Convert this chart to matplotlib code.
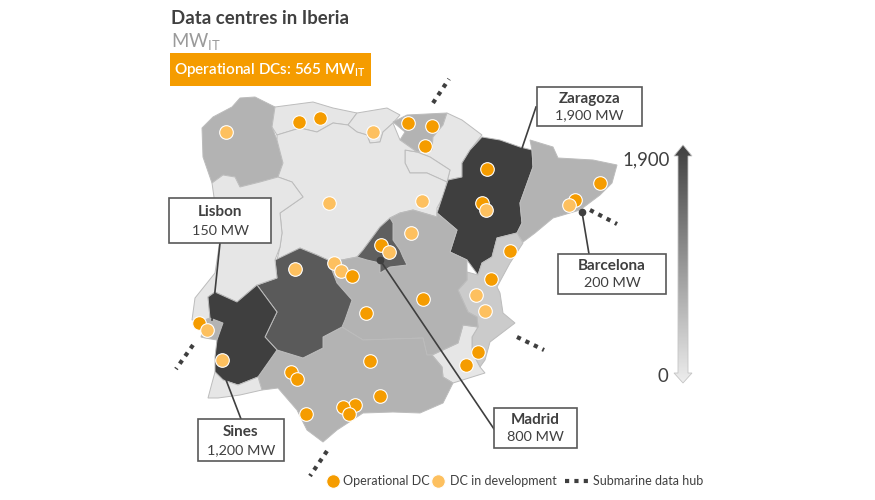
#!/usr/bin/env python3
"""
Data centres in Iberia - region map redrawn in picture coordinates
"""

import numpy as np
import matplotlib
matplotlib.use('Agg')
import matplotlib.pyplot as plt
from matplotlib.patches import Polygon, Rectangle
from matplotlib.colors import LinearSegmentedColormap

plt.rcParams['font.family'] = ['Lato', 'Open Sans', 'DejaVu Sans']
plt.rcParams['mathtext.default'] = 'regular'

DARK = '#3f3f3f'
TEXT = '#404040'
ORANGE = '#f59c00'
LIGHT_ORANGE = '#fdc05f'

# Region outlines, (x, y)
galicia = [(232,107),(240,98),(255,97),(275,107),(272,127),(277,140),(283,163),(278,177),(260,182),(240,187),(235,177),(223,175),(212,183),(203,157),(202,128),(213,117)]
asturias = [(275,107),(313,102),(333,108),(357,113),(348,125),(333,123),(317,132),(300,128),(277,135),(272,127)]
cantabria = [(357,113),(387,108),(400,115),(393,123),(383,132),(380,142),(370,143),(367,135),(357,132),(348,125)]
basque = [(393,122),(407,115),(447,113),(443,125),(433,137),(432,150),(417,152),(400,140),(405,132)]
navarre = [(447,113),(462,120),(482,135),(470,150),(462,163),(462,177),(448,180),(447,182),(450,170),(430,157),(417,152),(432,150),(433,137),(443,125)]
rioja = [(405,150),(417,152),(430,157),(450,170),(447,182),(427,173),(410,173),(405,163)]
castile_leon = [(277,135),(300,128),(317,132),(333,123),(348,125),(357,132),(367,135),(370,143),(380,142),(383,132),(393,123),(400,140),(417,152),(405,150),(405,163),(410,173),(427,173),(447,182),(443,197),(437,208),(437,217),(413,210),(400,213),(390,218),(380,227),(363,250),(357,257),(342,260),(328,260),(317,255),(300,248),(277,260),(280,247),(282,233),(280,213),(303,197),(292,182),(278,177),(283,163),(277,140)]
aragon = [(482,137),(500,140),(520,147),(532,150),(533,167),(520,203),(522,223),(517,233),(497,238),(492,257),(482,263),(478,275),(467,260),(450,252),(457,230),(437,213),(448,180),(462,177),(462,163),(470,150)]
catalonia = [(530,140),(553,147),(558,158),(593,160),(617,165),(612,183),(600,195),(580,210),(553,218),(535,233),(523,242),(517,233),(522,223),(520,203),(533,167),(532,150)]
valencia = [(497,238),(517,233),(523,243),(510,263),(497,287),(500,293),(503,313),(515,323),(490,342),(485,360),(480,367),(472,352),(472,337),(478,327),(477,317),(468,312),(458,290),(467,280),(467,272),(478,275),(482,263),(492,257)]
murcia = [(432,355),(458,343),(463,325),(478,327),(472,337),(472,352),(480,367),(485,373),(453,383),(443,377),(442,367)]
castile_mancha = [(390,218),(400,213),(413,210),(437,217),(437,213),(457,230),(450,252),(467,260),(467,280),(458,290),(468,312),(477,317),(478,327),(463,325),(458,343),(432,355),(427,355),(423,338),(363,340),(342,327),(352,300),(337,283),(328,260),(342,260),(357,257),(380,263),(380,273),(390,267),(407,265),(403,257),(400,250),(393,240),(393,223)]
madrid = [(363,250),(380,227),(390,218),(393,223),(393,240),(400,250),(403,257),(407,265),(390,267),(380,273),(380,263),(367,260),(357,257)]
andalusia = [(258,377),(277,350),(303,358),(323,348),(323,337),(342,327),(363,340),(423,338),(427,355),(432,355),(442,367),(443,377),(453,383),(443,403),(420,413),(393,412),(363,413),(337,430),(323,442),(307,430),(297,410),(278,388),(262,390)]
extremadura = [(257,285),(277,278),(275,260),(300,248),(317,255),(328,260),(337,283),(352,300),(345,320),(342,327),(323,337),(323,348),(303,358),(277,350),(265,337),(277,312)]
portugal_north = [(212,183),(223,175),(235,177),(240,187),(260,182),(278,177),(292,182),(303,197),(280,213),(282,233),(280,247),(275,260),(277,278),(257,285),(237,302),(215,292),(208,297),(210,318),(205,320),(192,320),(195,298),(215,273),(220,240)]
lisbon_area = [(205,320),(210,318),(223,323),(217,340),(205,338),(201,337)]
alentejo = [(208,297),(215,292),(237,302),(257,285),(277,312),(265,337),(277,350),(258,377),(238,385),(223,380),(215,372),(215,357),(217,340),(223,323),(210,318)]
algarve = [(215,372),(223,380),(238,385),(258,377),(262,390),(240,395),(218,398),(208,398),(212,383)]

regions = [galicia, asturias, cantabria, basque, navarre, rioja, castile_leon, aragon, catalonia,
           valencia, murcia, castile_mancha, madrid, andalusia, extremadura, portugal_north,
           lisbon_area, alentejo, algarve]
region_fills = ['#b3b3b3', '#e6e6e6', '#e6e6e6', '#b3b3b3', '#e6e6e6', '#e6e6e6', '#e6e6e6', DARK, '#b3b3b3',
                '#cbcbcb', '#e6e6e6', '#b3b3b3', '#5f5f5f', '#b3b3b3', '#5a5a5a', '#e6e6e6',
                '#b3b3b3', DARK, '#e6e6e6']

# Data centres
operational_x = [299,320,408,432,425,487,482,600,575,510,491,423,366,381,199,370,291,297,380,355,343,349,306,478,466]
operational_y = [122,118,123,126,146,169,203,183,200,251,279,299,313,245,323,361,372,379,396,405,407,414,414,352,365]
development_x = [226,373,422,329,411,486,569,389,295,334,341,476,485,207,222]
development_y = [132,132,201,203,233,210,205,252,269,263,271,295,311,330,360]
operational_top_x = [352]
operational_top_y = [276]

# Submarine hubs as (start, end)
hubs = [((433,103),(449,79)), ((590,210),(617,224)), ((193,345),(176,369)),
        ((327,451),(310,476)), ((517,337),(544,350))]

# Callouts
callout_names = ['Zaragoza', 'Barcelona', 'Lisbon', 'Sines', 'Madrid']
callout_values = ['1,900 MW', '200 MW', '150 MW', '1,200 MW', '800 MW']
callout_boxes = [(537,87,642,126), (558,254,666,294), (169,198,271,243), (198,419,284,461), (494,408,577,448)]
callout_from = [(536,107), (589,254), (220,243), (241,419), (494,429)]
callout_to = [(498,219), (582,212), (212,320), (223,372), (380,260)]
callout_dot = [True, True, False, False, True]

fig = plt.figure(figsize=(8.75, 5), dpi=100)
ax = fig.add_axes([0, 0, 1, 1])
ax.set_xlim(0, 875)
ax.set_ylim(500, 0)
ax.axis('off')

# Map
for outline, fill in zip(regions, region_fills):
    ax.add_patch(Polygon(outline, closed=True, facecolor=fill, edgecolor='#bcbcbc', linewidth=0.7, zorder=1))

# Hubs
hub_dash = (0, (1, 1.25))
for start, end in hubs:
    ax.plot([start[0], end[0]], [start[1], end[1]], color=DARK, lw=3, ls=hub_dash, zorder=2)

# Leader lines, under the dots
for p0, p1, has_dot in zip(callout_from, callout_to, callout_dot):
    ax.plot([p0[0], p1[0]], [p0[1], p1[1]], color=DARK, lw=1.2, zorder=2)
    if has_dot:
        ax.plot(p1[0], p1[1], 'o', color=DARK, ms=4.5, zorder=2)

# Data centres
dot = dict(s=96, edgecolors='#ffffff', linewidths=0.8, zorder=3)
ax.scatter(operational_x, operational_y, color=ORANGE, **dot)
ax.scatter(development_x, development_y, color=LIGHT_ORANGE, **dot)
ax.scatter(operational_top_x, operational_top_y, color=ORANGE, **dot)

# Callout boxes
for name, value, box in zip(callout_names, callout_values, callout_boxes):
    x0, y0, x1, y1 = box
    ax.add_patch(Rectangle((x0, y0), x1 - x0, y1 - y0, facecolor='white', edgecolor='#595959', lw=1.2, zorder=4))
    xc = (x0 + x1) / 2
    ax.text(xc, y0 + (y1 - y0) * 0.30, name, ha='center', va='center', fontsize=11,
            fontweight='bold', color=TEXT, zorder=5)
    ax.text(xc, y0 + (y1 - y0) * 0.73, value, ha='center', va='center', fontsize=10.4,
            color=TEXT, zorder=5)

# Colour scale arrow
arrow = [(683,145),(692,156),(688,156),(688,373),(692,373),(683,383),(674,373),(678,373),(678,156),(674,156)]
cmap = LinearSegmentedColormap.from_list('scale', [DARK, '#eeeeee'])
im = ax.imshow(np.linspace(0, 1, 256).reshape(-1, 1), cmap=cmap, extent=(672, 694, 384, 144),
               aspect='auto', zorder=2)
clip = Polygon(arrow, closed=True, facecolor='none', edgecolor='#c4c4c4', lw=0.6, zorder=3)
ax.add_patch(clip)
im.set_clip_path(clip)
ax.set_xlim(0, 875)
ax.set_ylim(500, 0)
ax.text(670, 160, '1,900', ha='right', va='center', fontsize=13.4, color=TEXT)
ax.text(668, 376, '0', ha='right', va='center', fontsize=13.4, color=TEXT)

# Headings
ax.text(171, 18, 'Data centres in Iberia', ha='left', va='center', fontsize=13.4, fontweight='bold', color=TEXT)
ax.text(171, 41, r'MW$_{IT}$', ha='left', va='center', fontsize=13.4, color='#9a9a9a')
ax.add_patch(Rectangle((170, 53), 201, 33, facecolor=ORANGE, edgecolor='none', zorder=2))
ax.text(174, 70, r'Operational DCs: 565 MW$_{IT}$', ha='left', va='center', fontsize=11,
        fontweight='semibold', color='white', zorder=3)

# Legend
ax.scatter([333], [481], s=96, color=ORANGE, edgecolors='white', linewidths=0.8)
ax.text(343, 481, 'Operational DC', ha='left', va='center', fontsize=9, color=TEXT)
ax.scatter([438], [481], s=96, color=LIGHT_ORANGE, edgecolors='white', linewidths=0.8)
ax.text(450, 481, 'DC in development', ha='left', va='center', fontsize=9, color=TEXT)
ax.plot([565, 588], [481, 481], color=DARK, lw=3, ls=hub_dash)
ax.text(593, 481, 'Submarine data hub', ha='left', va='center', fontsize=9, color=TEXT)

plt.savefig('out.png', dpi=100)
plt.close()
